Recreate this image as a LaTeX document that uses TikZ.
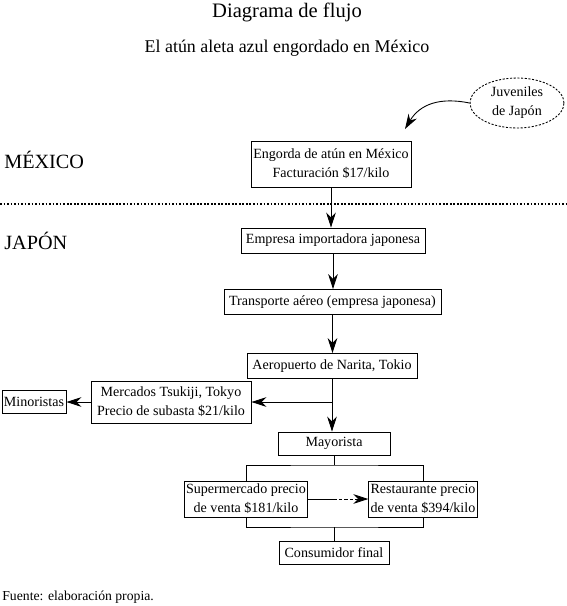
\documentclass[tikz,border=0pt]{standalone}
\usepackage{fontspec}
\setmainfont{Liberation Serif}
\usetikzlibrary{shapes.geometric, arrows.meta, positioning, calc}

\begin{document}
\begin{tikzpicture}[
        x=0.02cm, y=-0.02cm,
        box/.style={rectangle, draw, line width=0.5pt, inner sep=1pt, minimum height=0.5cm, align=center, font=\fontsize{8}{10.8}\selectfont},
        cloud/.style={ellipse, draw, line width=0.5pt, dash pattern=on 1.2pt off 0.9pt, inner sep=0pt, minimum width=1.88cm, minimum height=1cm, align=center, font=\fontsize{8}{10.8}\selectfont},
        arrow/.style={-{Stealth[length=8.5pt, width=5.5pt]}, line width=0.5pt},
        link/.style={line width=0.5pt},
        region/.style={anchor=west, inner sep=0pt, font=\fontsize{11.5}{14}\selectfont}
    ]
    \useasboundingbox (0,0) rectangle (567,606);

    \node (title) at (287,12) {\fontsize{11.7}{14}\selectfont Diagrama de flujo};
    \node (subtitle) at (287,48) {\fontsize{10.2}{12}\selectfont El atún aleta azul engordado en México};

    \node (mexico) [region] at (4,160) {MÉXICO};
    \node (japon) [region] at (4,241) {JAPÓN};
    \draw[line width=0.9pt, dash pattern=on 1pt off 1pt] (0,204) -- (567,204);

    \node (juv) [cloud] at (517,103) {Juveniles\\de Japón};
    \node (engorda) [box, minimum width=3.2cm, minimum height=0.92cm] at (331,164) {Engorda de atún en México\\Facturación \$17/kilo};
    \node (empresa) [box, minimum width=3.68cm] at (333,240.5) {Empresa importadora japonesa};
    \node (transporte) [box, minimum width=4.34cm] at (332.5,302) {Transporte aéreo (empresa japonesa)};
    \node (aero) [box, minimum width=3.4cm] at (332,366) {Aeropuerto de Narita, Tokio};
    \node (mercados) [box, minimum width=3.2cm, minimum height=0.84cm] at (171,402) {Mercados Tsukiji, Tokyo\\Precio de subasta \$21/kilo};
    \node (minor) [box, minimum width=1.28cm, minimum height=0.46cm] at (34,402) {Minoristas};
    \node (mayor) [box, minimum width=2.24cm, minimum height=0.46cm] at (334,443.5) {Mayorista};
    \node (super) [box, minimum width=2.36cm, minimum height=0.72cm] at (246,499) {Supermercado precio\\de venta \$181/kilo};
    \node (resta) [box, minimum width=2.16cm, minimum height=0.72cm] at (423,499) {Restaurante precio\\de venta \$394/kilo};
    \node (cons) [box, minimum width=2.2cm, minimum height=0.46cm] at (334,552.5) {Consumidor final};

    \node (fuente) [anchor=west, inner sep=0pt, font=\fontsize{7.8}{9}\selectfont] at (2,597) {Fuente: elaboración propia.};

    \coordinate (juvtip) at (405,129);
    \coordinate (split) at (334,465);
    \coordinate (join) at (334,527);
    \coordinate (mid) at (333,499);

    \draw[arrow] (juv.west) .. controls (440,97) and (420,104) .. (juvtip);
    \draw[arrow] (engorda) -- (engorda |- empresa.north);
    \draw[arrow] (empresa) -- (empresa |- transporte.north);
    \draw[arrow] (transporte) -- (transporte |- aero.north);
    \draw[arrow] (aero) -- (aero |- mayor.north);
    \draw[arrow] (aero |- mercados.east) -- (mercados.east);
    \draw[arrow] (mercados) -- (minor);

    \draw[link] (mayor.south) -- (split);
    \draw[link] (super.north) |- (split) -| (resta.north);
    \draw[link] (super.east) -- (mid);
    \draw[arrow, dash pattern=on 2pt off 1.2pt] (mid) -- (resta.west);
    \draw[link] (super.south) |- (join) -| (resta.south);
    \draw[link] (join) -- (cons.north);

\end{tikzpicture}
\end{document}
